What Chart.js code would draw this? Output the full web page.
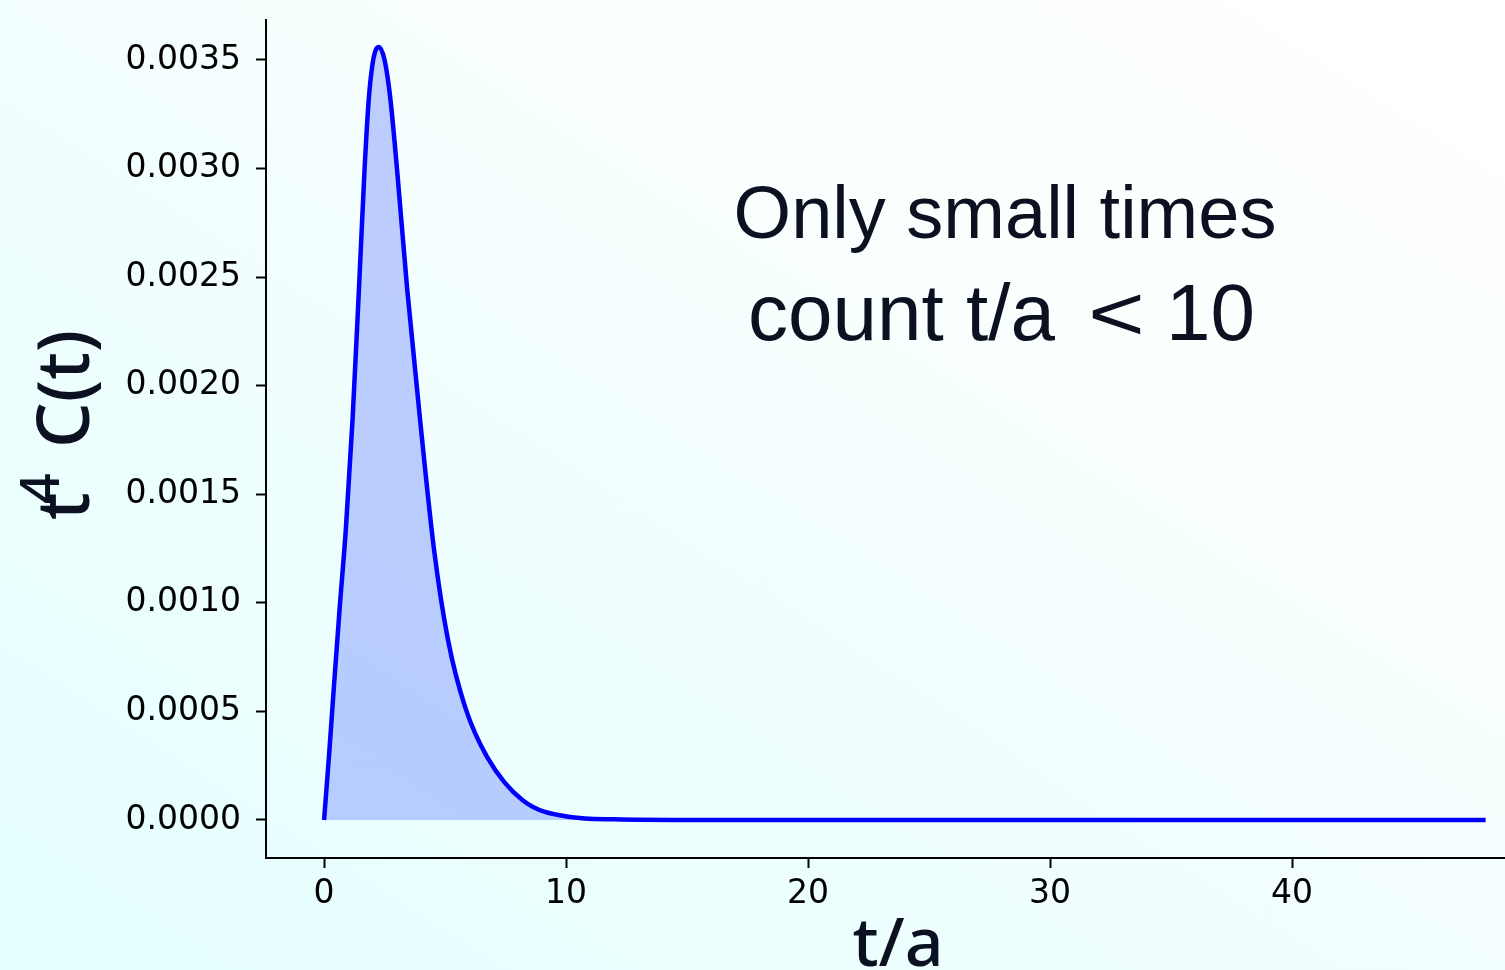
<!DOCTYPE html>
<html>
<head>
<meta charset="utf-8">
<script src="https://cdn.jsdelivr.net/npm/chart.js@4/dist/chart.umd.min.js"></script>
<style>
  html, body { margin: 0; padding: 0; }
  body {
    width: 1505px; height: 970px; overflow: hidden;
    background: linear-gradient(to top right, #e4ffff 0%, #f0fefe 40%, #fafffe 70%, #ffffff 100%);
  }
  canvas { display: block; }
</style>
</head>
<body>
<canvas id="chart" width="1505" height="970"></canvas>
<script>
// t/a sample positions and the weighted correlator t^4 C(t) at each of them
const tValues = [0, 0.22, 0.41, 0.64, 0.90, 1.18, 1.46, 1.67, 1.84, 2.00, 2.15, 2.27, 2.50,
                 2.73, 3.02, 3.43, 3.97, 4.55, 5.12, 5.83, 6.74, 8.22, 10.17, 12, 15, 20, 30, 40, 48];
const t4C = [0, 0.00032, 0.00062, 0.00097, 0.00134, 0.00185, 0.00249, 0.00299, 0.00331, 0.00348,
             0.00355, 0.00356, 0.00350, 0.00333, 0.00299, 0.00245, 0.00184, 0.00124, 0.00083,
             0.00052, 0.00029, 0.00009, 0.000014, 0.000003, 0, 0, 0, 0, 0];

// axis ticks
const xTicks = [0, 10, 20, 30, 40];
const yTicks = [0, 0.0005, 0.0010, 0.0015, 0.0020, 0.0025, 0.0030, 0.0035];

const points = tValues.map((t, i) => ({ x: t, y: t4C[i] }));

const ink = '#0b1120';

// free text: axis titles and the note in the plot area
const labelsPlugin = {
  id: 'labels',
  afterDraw(chart) {
    const ctx = chart.ctx;
    ctx.save();
    ctx.fillStyle = ink;
    ctx.textBaseline = 'alphabetic';

    // note
    ctx.font = '74px "Liberation Sans", Arial, sans-serif';
    ctx.textAlign = 'center';
    ctx.fillText('Only small times', 1005, 238);
    ctx.textAlign = 'left';
    ctx.font = '80px "Liberation Sans", Arial, sans-serif';
    ctx.fillText('count t/a', 748, 340);
    ctx.fillText('10', 1166, 340);
    ctx.save();
    ctx.translate(1088, 340);
    ctx.scale(1.25, 1);
    ctx.font = '78px "Liberation Sans", Arial, sans-serif';
    ctx.fillText('<', 0, 0);
    ctx.restore();

    // x title
    ctx.font = '500 68px "Noto Sans", sans-serif';
    ctx.textAlign = 'center';
    ctx.fillText('t/a', 898, 966);

    // y title (rotated), t with a raised 4 then C(t)
    ctx.translate(89, 520);
    ctx.rotate(-Math.PI / 2);
    ctx.textAlign = 'left';
    ctx.font = '500 72px "Noto Sans", sans-serif';
    ctx.fillText('t', 0, 0);
    ctx.font = '500 54px "Noto Sans", sans-serif';
    ctx.fillText('4', 16, -30);
    ctx.font = '500 72px "Noto Sans", sans-serif';
    ctx.fillText('C(t)', 72, 0);
    ctx.restore();
  }
};

new Chart(document.getElementById('chart'), {
  type: 'line',
  data: {
    datasets: [{
      data: points,
      borderColor: '#0000ff',
      borderWidth: 4.5,
      backgroundColor: 'rgba(40, 70, 255, 0.27)',
      fill: 'origin',
      pointRadius: 0,
      cubicInterpolationMode: 'monotone'
    }]
  },
  options: {
    responsive: false,
    devicePixelRatio: 1,
    animation: false,
    layout: { padding: { top: 20, right: 0, left: 0, bottom: 0 } },
    plugins: { legend: { display: false }, tooltip: { enabled: false } },
    scales: {
      x: {
        type: 'linear',
        min: -2.4,
        max: 48.8,
        afterFit(scale) { scale.height = 112; scale.paddingLeft = 0; scale.paddingRight = 0; },
        afterBuildTicks(scale) { scale.ticks = xTicks.map(v => ({ value: v })); },
        border: { display: true, color: '#000', width: 2 },
        grid: { display: true, drawOnChartArea: false, drawTicks: true, tickLength: 10,
                tickColor: '#000', tickWidth: 2 },
        ticks: { color: '#000', padding: 7, maxRotation: 0,
                 font: { family: '"DejaVu Sans"', size: 33 },
                 callback: v => String(v) }
      },
      y: {
        type: 'linear',
        min: -0.000175,
        max: 0.003684,
        afterFit(scale) { scale.width = 266; scale.paddingTop = 0; scale.paddingBottom = 0; },
        afterBuildTicks(scale) { scale.ticks = yTicks.map(v => ({ value: v })); },
        border: { display: true, color: '#000', width: 2 },
        grid: { display: true, drawOnChartArea: false, drawTicks: true, tickLength: 10,
                tickColor: '#000', tickWidth: 2 },
        ticks: { color: '#000', padding: 15,
                 font: { family: '"DejaVu Sans"', size: 33 },
                 callback: v => v.toFixed(4) }
      }
    }
  },
  plugins: [labelsPlugin]
});
</script>
</body>
</html>
